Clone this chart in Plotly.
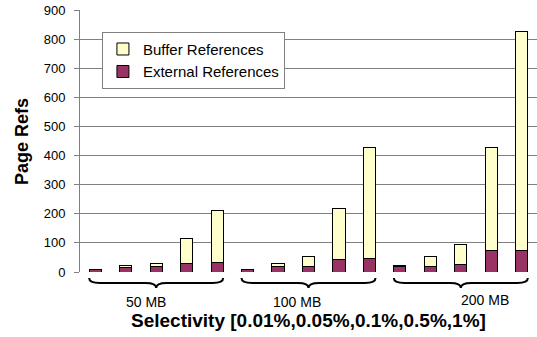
import plotly.graph_objects as go

groups = ["50 MB", "100 MB", "200 MB"]
selectivity = ["0.01%", "0.05%", "0.1%", "0.5%", "1%"]
categories = [f"{g} {s}" for g in groups for s in selectivity]
external_refs = [9, 17, 18, 28, 32, 9, 18, 20, 44, 47, 18, 20, 27, 75, 75]
buffer_refs = [0, 5, 12, 86, 179, 1, 12, 32, 174, 381, 4, 32, 66, 354, 752]
y_ticks = [0, 100, 200, 300, 400, 500, 600, 700, 800, 900]

FONT = "Arial, Liberation Sans, sans-serif"
xpos = list(range(len(categories)))

fig = go.Figure()
fig.add_trace(go.Bar(x=xpos, y=external_refs, name="External References",
                     marker=dict(color="#993366", line=dict(color="black", width=1)),
                     width=0.4, legendrank=2, hovertext=categories))
fig.add_trace(go.Bar(x=xpos, y=buffer_refs, name="Buffer References",
                     marker=dict(color="#FFFFCC", line=dict(color="black", width=1)),
                     width=0.4, legendrank=1, hovertext=categories))

shapes = []
annotations = []
y_top, y_mid, y_tip = -0.023, -0.042, -0.061
label_x = [1.67, 6.63, 12.78]
label_y = [-0.1145, -0.1145, -0.107]
for gi, g in enumerate(groups):
    a = gi * 5 - 0.2
    b = gi * 5 + 4.2
    c = gi * 5 + 2
    path = (f"M {a},{y_top} Q {a},{y_mid} {a+0.35},{y_mid} L {c-0.35},{y_mid} "
            f"Q {c},{y_mid} {c},{y_tip} Q {c},{y_mid} {c+0.35},{y_mid} "
            f"L {b-0.35},{y_mid} Q {b},{y_mid} {b},{y_top}")
    shapes.append(dict(type="path", path=path, xref="x", yref="paper",
                       line=dict(color="black", width=2)))
    annotations.append(dict(text=g, x=label_x[gi], y=label_y[gi], xref="x", yref="paper",
                            showarrow=False, font=dict(family=FONT, size=14, color="black"),
                            xanchor="center", yanchor="middle"))

annotations.append(dict(text="<b>Selectivity [0.01%,0.05%,0.1%,0.5%,1%]</b>", x=0.5, y=-0.186,
                        xref="paper", yref="paper", showarrow=False,
                        font=dict(family=FONT, size=19, color="black"),
                        xanchor="center", yanchor="middle"))
annotations.append(dict(text="<b>Page Refs</b>", x=-0.127, y=0.5, xref="paper", yref="paper",
                        showarrow=False, textangle=-90,
                        font=dict(family=FONT, size=18, color="black"),
                        xanchor="center", yanchor="middle"))

fig.update_layout(
    barmode="stack",
    width=537, height=337,
    margin=dict(l=80, r=0, t=10, b=65),
    paper_bgcolor="white", plot_bgcolor="white",
    font=dict(family=FONT, size=12, color="black"),
    showlegend=True,
    legend=dict(x=0.048, y=0.917, xanchor="left", yanchor="top",
                bgcolor="white", bordercolor="#808080", borderwidth=1,
                traceorder="normal",
                font=dict(family=FONT, size=15, color="black")),
    xaxis=dict(range=[-0.5, 14.5], showticklabels=False, ticks="", showgrid=False,
               zeroline=False, showline=False),
    yaxis=dict(range=[0, 900], tickvals=y_ticks, ticktext=[str(v) for v in y_ticks],
               showgrid=True, gridcolor="#808080", gridwidth=1,
               zeroline=False, showline=True, linecolor="#808080", linewidth=1,
               ticks="outside", ticklen=5, tickcolor="#808080", ticklabelstandoff=6,
               automargin=False,
               tickfont=dict(family=FONT, size=13, color="black")),
    shapes=shapes,
    annotations=annotations,
)

fig.write_html("out.html", config={"displayModeBar": False},
               post_script="document.body.style.margin='0px';")
